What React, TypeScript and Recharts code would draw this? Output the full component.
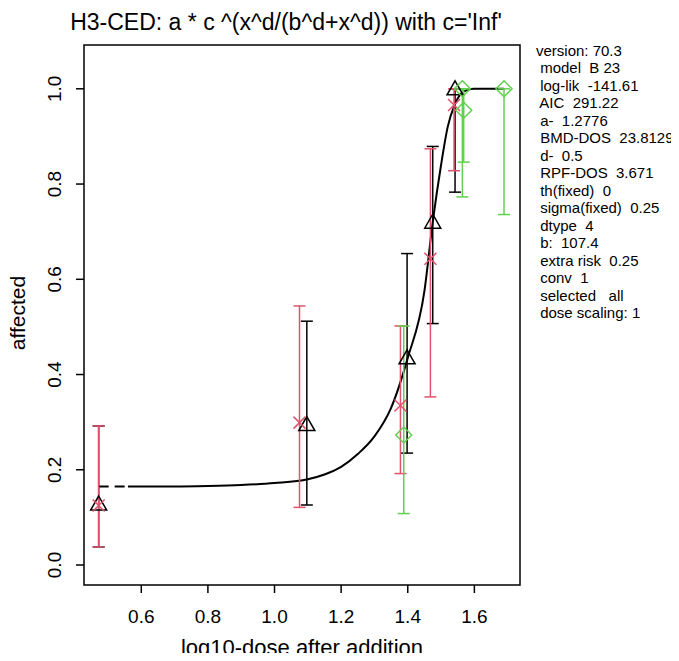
import React from "react";
import {
  ComposedChart,
  Line,
  Scatter,
  XAxis,
  YAxis,
  ErrorBar,
  ReferenceArea,
} from "recharts";

const FONT = '"Liberation Sans", Arial, Helvetica, sans-serif';
const RED = "#DF536B";
const GREEN = "#61D04F";

// black triangles (with black error bars)
const triX = [0.472, 1.097, 1.398, 1.475, 1.542];
const triY = [0.128, 0.295, 0.435, 0.72, 1.0];
const triLo = [0.038, 0.126, 0.235, 0.507, 0.783];
const triHi = [0.292, 0.512, 0.654, 0.879, 1.0];

// red crosses
const crossX = [0.472, 1.075, 1.378, 1.468, 1.539];
const crossY = [0.125, 0.299, 0.335, 0.643, 0.966];
const crossLo = [0.038, 0.121, 0.192, 0.353, 0.828];
const crossHi = [0.292, 0.544, 0.502, 0.874, 1.0];

// green diamonds
const diaX = [1.388, 1.564, 1.568, 1.689];
const diaY = [0.273, 1.0, 0.955, 1.0];
const diaLo = [0.108, 0.773, 0.846, 0.736];
const diaHi = [0.502, 1.0, 1.0, 1.0];

// fitted curve
const curveX = [0.56, 0.7, 0.8, 0.9, 1.0, 1.1, 1.15, 1.2, 1.25, 1.3, 1.35, 1.4, 1.45, 1.475, 1.5, 1.52, 1.54, 1.56, 1.58, 1.6, 1.689];
const curveY = [0.165, 0.165, 0.166, 0.168, 0.172, 0.18, 0.19, 0.206, 0.233, 0.27, 0.33, 0.435, 0.575, 0.72, 0.84, 0.92, 0.965, 0.99, 0.998, 1.0, 1.0];
// dashed part below the lowest dose
const dashX = [0.472, 0.56];
const dashY = [0.165, 0.165];

const xTicks = [0.6, 0.8, 1.0, 1.2, 1.4, 1.6];
const yTicks = [0, 0.2, 0.4, 0.6, 0.8, 1.0];
const X_DOMAIN: [number, number] = [0.428, 1.737];
const Y_DOMAIN: [number, number] = [-0.042, 1.092];

const infoLines = [
  "version: 70.3",
  " model  B 23",
  " log-lik  -141.61",
  " AIC  291.22",
  " a-  1.2776",
  " BMD-DOS  23.8129",
  " d-  0.5",
  " RPF-DOS  3.671",
  " th(fixed)  0",
  " sigma(fixed)  0.25",
  " dtype  4",
  " b:  107.4",
  " extra risk  0.25",
  " conv  1",
  " selected   all",
  " dose scaling: 1",
];

const toPoints = (xs: number[], ys: number[], lo: number[], hi: number[]) =>
  xs.map((x, i) => ({ x, y: ys[i], err: [ys[i] - lo[i], hi[i] - ys[i]] }));

const triData = toPoints(triX, triY, triLo, triHi);
const crossData = toPoints(crossX, crossY, crossLo, crossHi);
const diaData = toPoints(diaX, diaY, diaLo, diaHi);
const curveData = curveX.map((x, i) => ({ x, y: curveY[i] }));
const dashData = dashX.map((x, i) => ({ x, y: dashY[i] }));

const Triangle = (props: any) => {
  const { cx, cy } = props;
  return (
    <path
      d={`M${cx},${cy - 8} L${cx + 8},${cy + 6} L${cx - 8},${cy + 6} Z`}
      fill="none"
      stroke="#000"
      strokeWidth={1.5}
    />
  );
};

const Cross = (props: any) => {
  const { cx, cy } = props;
  return (
    <path
      d={`M${cx - 6},${cy - 6} L${cx + 6},${cy + 6} M${cx - 6},${cy + 6} L${cx + 6},${cy - 6}`}
      fill="none"
      stroke={RED}
      strokeWidth={1.5}
    />
  );
};

const Diamond = (props: any) => {
  const { cx, cy } = props;
  return (
    <path
      d={`M${cx},${cy - 8} L${cx + 8},${cy} L${cx},${cy + 8} L${cx - 8},${cy} Z`}
      fill="none"
      stroke={GREEN}
      strokeWidth={1.5}
    />
  );
};

const YTick = (props: any) => {
  const { x, y, payload } = props;
  return (
    <text
      x={x}
      y={y}
      transform={`rotate(-90, ${x}, ${y})`}
      textAnchor="middle"
      fontSize={19}
      fontFamily={FONT}
      fill="#000"
    >
      {Number(payload.value).toFixed(1)}
    </text>
  );
};

const App = () => {
  return (
    <div
      style={{
        position: "relative",
        width: 679,
        height: 661,
        margin: -8,
        background: "#fff",
        fontFamily: FONT,
        overflow: "hidden",
      }}
    >
      <div
        style={{
          position: "absolute",
          left: 0,
          top: 10.5,
          width: 572,
          textAlign: "center",
          fontSize: 23,
          lineHeight: "23px",
          color: "#000",
          whiteSpace: "pre",
        }}
      >
        H3-CED: a * c ^(x^d/(b^d+x^d)) with c='Inf'
      </div>

      <div
        style={{
          position: "absolute",
          left: 536,
          top: 41.5,
          fontSize: 15,
          lineHeight: "17.5px",
          color: "#000",
          whiteSpace: "pre",
        }}
      >
        {infoLines.map((t, i) => (
          <div key={i}>{t}</div>
        ))}
      </div>

      <ComposedChart
        width={679}
        height={661}
        margin={{ top: 45, right: 159, bottom: 0, left: 0 }}
        style={{ position: "absolute", left: 0, top: 0 }}
      >
        <XAxis
          type="number"
          dataKey="x"
          domain={X_DOMAIN}
          ticks={xTicks}
          allowDataOverflow
          height={76}
          axisLine={false}
          tickLine={{ stroke: "#000", strokeWidth: 1.5 }}
          tickSize={8}
          tickMargin={17}
          tickFormatter={(v: number) => v.toFixed(1)}
          tick={{ fontSize: 19, fill: "#000", fontFamily: FONT }}
          label={(p: any) => {
            const vb = p.viewBox || { x: 84, width: 436 };
            return (
              <text
                x={vb.x + vb.width / 2}
                y={655}
                textAnchor="middle"
                fontSize={22}
                fontFamily={FONT}
                fill="#000"
              >
                log10-dose after addition
              </text>
            );
          }}
        />
        <YAxis
          type="number"
          domain={Y_DOMAIN}
          ticks={yTicks}
          allowDataOverflow
          width={84}
          axisLine={false}
          tickLine={{ stroke: "#000", strokeWidth: 1.5 }}
          tickSize={8}
          tickMargin={15}
          tick={<YTick />}
          label={(p: any) => {
            const vb = p.viewBox || { y: 45, height: 540 };
            const cy = vb.y + vb.height / 2 - 2;
            return (
              <text
                x={25}
                y={cy}
                transform={`rotate(-90, 25, ${cy})`}
                textAnchor="middle"
                fontSize={21}
                fontFamily={FONT}
                fill="#000"
              >
                affected
              </text>
            );
          }}
        />
        <ReferenceArea
          x1={X_DOMAIN[0]}
          x2={X_DOMAIN[1]}
          y1={Y_DOMAIN[0]}
          y2={Y_DOMAIN[1]}
          fill="none"
          stroke="#000"
          strokeWidth={1.5}
          fillOpacity={0}
          strokeOpacity={1}
        />
        <Line
          data={dashData}
          dataKey="y"
          type="linear"
          stroke="#000"
          strokeWidth={2}
          strokeDasharray="10 6"
          dot={false}
          activeDot={false}
          isAnimationActive={false}
        />
        <Line
          data={curveData}
          dataKey="y"
          type="monotone"
          stroke="#000"
          strokeWidth={2}
          dot={false}
          activeDot={false}
          isAnimationActive={false}
        />
        <Scatter
          data={triData}
          dataKey="y"
          shape={Triangle}
          isAnimationActive={false}
        >
          <ErrorBar
            dataKey="err"
            direction="y"
            width={6}
            stroke="#000"
            strokeWidth={1.5}
            isAnimationActive={false}
          />
        </Scatter>
        <Scatter
          data={crossData}
          dataKey="y"
          shape={Cross}
          isAnimationActive={false}
        >
          <ErrorBar
            dataKey="err"
            direction="y"
            width={6}
            stroke={RED}
            strokeWidth={1.5}
            isAnimationActive={false}
          />
        </Scatter>
        <Scatter
          data={diaData}
          dataKey="y"
          shape={Diamond}
          isAnimationActive={false}
        >
          <ErrorBar
            dataKey="err"
            direction="y"
            width={6}
            stroke={GREEN}
            strokeWidth={1.5}
            isAnimationActive={false}
          />
        </Scatter>
      </ComposedChart>
    </div>
  );
};

export default App;
